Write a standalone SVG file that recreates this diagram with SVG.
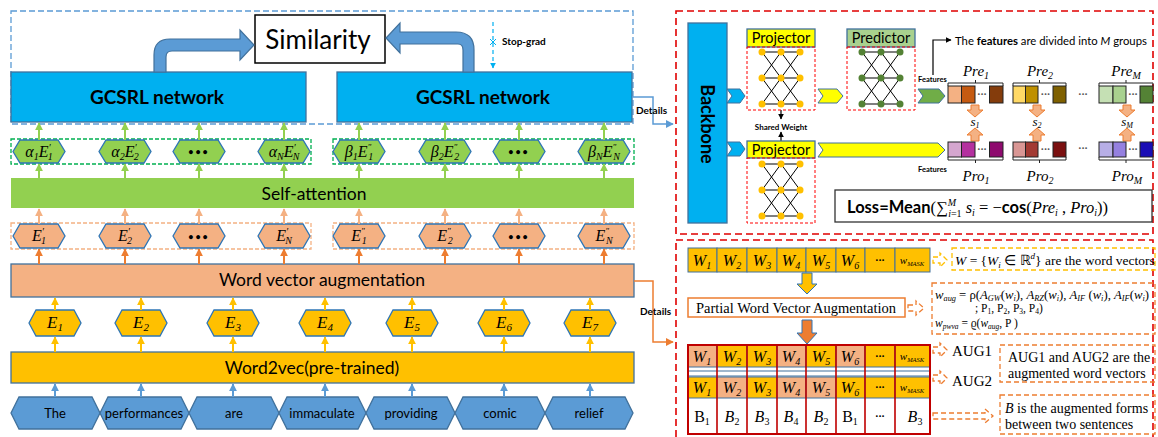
<svg xmlns="http://www.w3.org/2000/svg" width="1158" height="437" viewBox="0 0 1158 437">
<style>
text{font-family:Lato,"Liberation Sans",sans-serif;fill:#000}
.m{font-family:"Liberation Serif",serif;font-style:italic}
.r{font-family:"Liberation Serif",serif;font-style:normal}
.b{font-weight:bold}
.bar{stroke:#41719C;stroke-width:1.3}
.hG{fill:#92D050;stroke:#2E75B6;stroke-width:1.3}
.hO{fill:#F4B183;stroke:#2E75B6;stroke-width:1.3}
.hY{fill:#FFC000;stroke:#2E75B6;stroke-width:1.3}
.hB{fill:#5B9BD5;stroke:#41719C;stroke-width:1.3}
.dG{fill:none;stroke:#00B050;stroke-width:1.3;stroke-dasharray:4 2}
.dO{fill:none;stroke:#F4B183;stroke-width:1.3;stroke-dasharray:4 2}
.dR{fill:none;stroke:#E00000;stroke-width:1.6;stroke-dasharray:7 4}
.dr{fill:none;stroke:#FF0000;stroke-width:1;stroke-dasharray:3 2}
.dB{fill:none;stroke:#5B9BD5;stroke-width:1.3;stroke-dasharray:6 3}
.dYb{fill:none;stroke:#FFC000;stroke-width:1.3;stroke-dasharray:5 3}
.dOb{fill:none;stroke:#ED7D31;stroke-width:1.3;stroke-dasharray:5 3}
.aG{stroke:#92D050;stroke-width:2;marker-end:url(#mG)}
.aL{stroke:#F4B183;stroke-width:2;marker-end:url(#mL)}
.aO{stroke:#ED7D31;stroke-width:2;marker-end:url(#mO)}
.aY{stroke:#FFC000;stroke-width:2;marker-end:url(#mY)}
.aB{stroke:#5B9BD5;stroke-width:2;marker-end:url(#mB)}
.cell{stroke:#41719C;stroke-width:1}
.pc{stroke:#222;stroke-width:1}
.fat{fill:#5B9BD5;stroke:#41719C;stroke-width:1.2}
.sa{fill:#F4B183;stroke:#ED7D31;stroke-width:1}
.dots{fill:#555;font-size:12px}
.lab{font-size:13px}
</style>
<defs>
<marker id="mG" viewBox="0 0 10 10" refX="9" refY="5" markerWidth="8" markerHeight="8" markerUnits="userSpaceOnUse" orient="auto"><path d="M0,0L10,5L0,10z" fill="#92D050"/></marker>
<marker id="mL" viewBox="0 0 10 10" refX="9" refY="5" markerWidth="8" markerHeight="8" markerUnits="userSpaceOnUse" orient="auto"><path d="M0,0L10,5L0,10z" fill="#F4B183"/></marker>
<marker id="mO" viewBox="0 0 10 10" refX="9" refY="5" markerWidth="8" markerHeight="8" markerUnits="userSpaceOnUse" orient="auto"><path d="M0,0L10,5L0,10z" fill="#ED7D31"/></marker>
<marker id="mY" viewBox="0 0 10 10" refX="9" refY="5" markerWidth="8" markerHeight="8" markerUnits="userSpaceOnUse" orient="auto"><path d="M0,0L10,5L0,10z" fill="#FFC000"/></marker>
<marker id="mB" viewBox="0 0 10 10" refX="9" refY="5" markerWidth="8" markerHeight="8" markerUnits="userSpaceOnUse" orient="auto"><path d="M0,0L10,5L0,10z" fill="#5B9BD5"/></marker>
<marker id="mK" viewBox="0 0 10 10" refX="9" refY="5" markerWidth="6" markerHeight="6" markerUnits="userSpaceOnUse" orient="auto"><path d="M0,0L10,5L0,10z" fill="#000"/></marker>
<marker id="mC" viewBox="0 0 10 10" refX="9" refY="5" markerWidth="6" markerHeight="6" markerUnits="userSpaceOnUse" orient="auto"><path d="M0,0L10,5L0,10z" fill="#00B0F0"/></marker>
<g id="net">
<path d="M0,0H38M0,26H38M0,52H38M0,0L19,26M19,0L0,26M19,0L38,26M38,0L19,26M0,26L19,52M19,26L0,52M19,26L38,52M38,26L19,52" stroke="#000" stroke-width="1" fill="none"/>
<circle cx="0" cy="0" r="3.5"/><circle cx="19" cy="0" r="3.5"/><circle cx="38" cy="0" r="3.5"/>
<circle cx="0" cy="26" r="3.5"/><circle cx="19" cy="26" r="3.5"/><circle cx="38" cy="26" r="3.5"/>
<circle cx="0" cy="52" r="3.5"/><circle cx="19" cy="52" r="3.5"/><circle cx="38" cy="52" r="3.5"/>
</g>
</defs>
<rect width="1158" height="437" fill="#fff"/>

<!-- ===== LEFT PANEL ===== -->
<rect class="dB" x="11" y="11" width="622" height="113"/>

<g id="similarity">
<rect x="255" y="15" width="130" height="48" fill="#fff" stroke="#000" stroke-width="1.5"/>
<text x="318" y="49" font-size="26" text-anchor="middle">Similarity</text>
</g>

<g id="gcsrl1">
<rect class="bar" x="11" y="72" width="295" height="50" fill="#00B0F0"/>
<text x="157" y="104" font-size="19" class="b" text-anchor="middle">GCSRL network</text>
</g>
<g id="gcsrl2">
<rect class="bar" x="337" y="72" width="295" height="50" fill="#00B0F0"/>
<text x="483" y="104" font-size="19" class="b" text-anchor="middle">GCSRL network</text>
</g>

<g id="stopgrad">
<line x1="493" y1="22" x2="493" y2="68" stroke="#00B0F0" stroke-width="1.2" stroke-dasharray="4 3" marker-end="url(#mC)"/>
<path d="M490,39L496,45M496,39L490,45" stroke="#00B0F0" stroke-width="1"/>
<text x="502" y="45" font-size="10" class="b">Stop-grad</text>
</g>

<g id="alpha-row">
<rect class="dG" x="11" y="139" width="300" height="25"/>
<polygon class="hG" points="13,151.5 20,140 58,140 65,151.5 58,163 20,163"/>
<polygon class="hG" points="99,151.5 106,140 144,140 151,151.5 144,163 106,163"/>
<polygon class="hG" points="173,151.5 180,140 218,140 225,151.5 218,163 180,163"/>
<polygon class="hG" points="258,151.5 265,140 303,140 310,151.5 303,163 265,163"/>
<text class="m" x="39" y="157" font-size="16" text-anchor="middle">α<tspan font-size="10" dy="3">1</tspan><tspan dy="-3">E</tspan><tspan font-size="10" dy="-6">′</tspan><tspan font-size="10" dx="-3" dy="9">1</tspan></text>
<text class="m" x="125" y="157" font-size="16" text-anchor="middle">α<tspan font-size="10" dy="3">2</tspan><tspan dy="-3">E</tspan><tspan font-size="10" dy="-6">′</tspan><tspan font-size="10" dx="-3" dy="9">2</tspan></text>
<text x="199" y="155" font-size="9" text-anchor="middle" class="b" letter-spacing="2">•••</text>
<text class="m" x="284" y="157" font-size="16" text-anchor="middle">α<tspan font-size="10" dy="3">N</tspan><tspan dy="-3">E</tspan><tspan font-size="10" dy="-6">′</tspan><tspan font-size="10" dx="-3" dy="9">N</tspan></text>
</g>
<g id="beta-row">
<rect class="dG" x="333" y="139" width="301" height="25"/>
<polygon class="hG" points="333,151.5 340,140 378,140 385,151.5 378,163 340,163"/>
<polygon class="hG" points="419,151.5 426,140 464,140 471,151.5 464,163 426,163"/>
<polygon class="hG" points="493,151.5 500,140 538,140 545,151.5 538,163 500,163"/>
<polygon class="hG" points="578,151.5 585,140 623,140 630,151.5 623,163 585,163"/>
<text class="m" x="359" y="157" font-size="16" text-anchor="middle">β<tspan font-size="10" dy="3">1</tspan><tspan dy="-3">E</tspan><tspan font-size="9" dy="-7">"</tspan><tspan font-size="10" dx="-3" dy="10">1</tspan></text>
<text class="m" x="445" y="157" font-size="16" text-anchor="middle">β<tspan font-size="10" dy="3">2</tspan><tspan dy="-3">E</tspan><tspan font-size="9" dy="-7">"</tspan><tspan font-size="10" dx="-3" dy="10">2</tspan></text>
<text x="519" y="155" font-size="9" text-anchor="middle" class="b" letter-spacing="2">•••</text>
<text class="m" x="604" y="157" font-size="16" text-anchor="middle">β<tspan font-size="10" dy="3">N</tspan><tspan dy="-3">E</tspan><tspan font-size="9" dy="-7">"</tspan><tspan font-size="10" dx="-3" dy="10">N</tspan></text>
</g>

<g id="self-attention">
<rect x="11" y="178" width="623" height="30" fill="#92D050"/>
<text x="314" y="200" font-size="17.5" text-anchor="middle">Self-attention</text>
</g>

<g id="eprime-row">
<rect class="dO" x="11" y="223" width="300" height="26"/>
<polygon class="hO" points="13,236 20,224 58,224 65,236 58,248 20,248"/>
<polygon class="hO" points="99,236 106,224 144,224 151,236 144,248 106,248"/>
<polygon class="hO" points="173,236 180,224 218,224 225,236 218,248 180,248"/>
<polygon class="hO" points="258,236 265,224 303,224 310,236 303,248 265,248"/>
<text class="m" x="39" y="241" font-size="16" text-anchor="middle">E<tspan font-size="10" dy="-6">′</tspan><tspan font-size="10" dx="-3" dy="9">1</tspan></text>
<text class="m" x="125" y="241" font-size="16" text-anchor="middle">E<tspan font-size="10" dy="-6">′</tspan><tspan font-size="10" dx="-3" dy="9">2</tspan></text>
<text x="199" y="240" font-size="9" text-anchor="middle" class="b" letter-spacing="2">•••</text>
<text class="m" x="284" y="241" font-size="16" text-anchor="middle">E<tspan font-size="10" dy="-6">′</tspan><tspan font-size="10" dx="-3" dy="9">N</tspan></text>
</g>
<g id="edprime-row">
<rect class="dO" x="333" y="223" width="301" height="26"/>
<polygon class="hO" points="333,236 340,224 378,224 385,236 378,248 340,248"/>
<polygon class="hO" points="419,236 426,224 464,224 471,236 464,248 426,248"/>
<polygon class="hO" points="493,236 500,224 538,224 545,236 538,248 500,248"/>
<polygon class="hO" points="578,236 585,224 623,224 630,236 623,248 585,248"/>
<text class="m" x="359" y="241" font-size="16" text-anchor="middle">E<tspan font-size="9" dy="-7">"</tspan><tspan font-size="10" dx="-3" dy="10">1</tspan></text>
<text class="m" x="445" y="241" font-size="16" text-anchor="middle">E<tspan font-size="9" dy="-7">"</tspan><tspan font-size="10" dx="-3" dy="10">2</tspan></text>
<text x="519" y="240" font-size="9" text-anchor="middle" class="b" letter-spacing="2">•••</text>
<text class="m" x="604" y="241" font-size="16" text-anchor="middle">E<tspan font-size="9" dy="-7">"</tspan><tspan font-size="10" dx="-3" dy="10">N</tspan></text>
</g>

<g id="word-vector-augmentation">
<rect class="bar" x="11" y="264" width="623" height="33" fill="#F4B183"/>
<text x="322" y="286" font-size="17.5" text-anchor="middle">Word vector augmentation</text>
</g>

<g id="e-row">
<polygon class="hY" points="29,323 36,310 74,310 81,323 74,336 36,336"/>
<polygon class="hY" points="115,323 122,310 160,310 167,323 160,336 122,336"/>
<polygon class="hY" points="207,323 214,310 252,310 259,323 252,336 214,336"/>
<polygon class="hY" points="299,323 306,310 344,310 351,323 344,336 306,336"/>
<polygon class="hY" points="386,323 393,310 431,310 438,323 431,336 393,336"/>
<polygon class="hY" points="478,323 485,310 523,310 530,323 523,336 485,336"/>
<polygon class="hY" points="564,323 571,310 609,310 616,323 609,336 571,336"/>
<text class="m" x="55" y="328" font-size="17" text-anchor="middle">E<tspan font-size="11" dy="3">1</tspan></text>
<text class="m" x="141" y="328" font-size="17" text-anchor="middle">E<tspan font-size="11" dy="3">2</tspan></text>
<text class="m" x="233" y="328" font-size="17" text-anchor="middle">E<tspan font-size="11" dy="3">3</tspan></text>
<text class="m" x="325" y="328" font-size="17" text-anchor="middle">E<tspan font-size="11" dy="3">4</tspan></text>
<text class="m" x="412" y="328" font-size="17" text-anchor="middle">E<tspan font-size="11" dy="3">5</tspan></text>
<text class="m" x="504" y="328" font-size="17" text-anchor="middle">E<tspan font-size="11" dy="3">6</tspan></text>
<text class="m" x="590" y="328" font-size="17" text-anchor="middle">E<tspan font-size="11" dy="3">7</tspan></text>
</g>

<g id="word2vec">
<rect class="bar" x="11" y="352" width="623" height="31" fill="#FFC000"/>
<text x="312" y="374" font-size="17.5" text-anchor="middle">Word2vec(pre-trained)</text>
</g>

<g id="words">
<polygon class="hB" points="11,413 19,397 92,397 100,413 92,429 19,429"/>
<polygon class="hB" points="100,413 108,397 181,397 189,413 181,429 108,429"/>
<polygon class="hB" points="189,413 197,397 271,397 279,413 271,429 197,429"/>
<polygon class="hB" points="279,413 287,397 358,397 366,413 358,429 287,429"/>
<polygon class="hB" points="366,413 374,397 447,397 455,413 447,429 374,429"/>
<polygon class="hB" points="455,413 463,397 537,397 545,413 537,429 463,429"/>
<polygon class="hB" points="545,413 553,397 625,397 633,413 625,429 553,429"/>
<text class="lab" x="55" y="418" text-anchor="middle">The</text>
<text class="lab" x="144" y="418" text-anchor="middle">performances</text>
<text class="lab" x="234" y="418" text-anchor="middle">are</text>
<text class="lab" x="322" y="418" text-anchor="middle">immaculate</text>
<text class="lab" x="411" y="418" text-anchor="middle">providing</text>
<text class="lab" x="500" y="418" text-anchor="middle">comic</text>
<text class="lab" x="589" y="418" text-anchor="middle">relief</text>
</g>

<g id="connectors">
<path class="fat" d="M154,72L154,55Q154,39 170,39L240,39L240,30L254,45L240,60L240,51L172,51Q166,51 166,57L166,72Z"/>
<path class="fat" d="M474,72L474,50Q474,32 456,32L400,32L400,23L386,38L400,53L400,44L458,44Q463,44 463,50L463,72Z"/>
<line class="aG" x1="39" y1="140" x2="39" y2="123"/>
<line class="aG" x1="125" y1="140" x2="125" y2="123"/>
<line class="aG" x1="199" y1="140" x2="199" y2="123"/>
<line class="aG" x1="284" y1="140" x2="284" y2="123"/>
<line class="aG" x1="359" y1="140" x2="359" y2="123"/>
<line class="aG" x1="445" y1="140" x2="445" y2="123"/>
<line class="aG" x1="519" y1="140" x2="519" y2="123"/>
<line class="aG" x1="604" y1="140" x2="604" y2="123"/>
<line class="aG" x1="39" y1="178" x2="39" y2="164"/>
<line class="aG" x1="125" y1="178" x2="125" y2="164"/>
<line class="aG" x1="199" y1="178" x2="199" y2="164"/>
<line class="aG" x1="284" y1="178" x2="284" y2="164"/>
<line class="aG" x1="359" y1="178" x2="359" y2="164"/>
<line class="aG" x1="445" y1="178" x2="445" y2="164"/>
<line class="aG" x1="519" y1="178" x2="519" y2="164"/>
<line class="aG" x1="604" y1="178" x2="604" y2="164"/>
<line class="aL" x1="39" y1="224" x2="39" y2="209"/>
<line class="aL" x1="125" y1="224" x2="125" y2="209"/>
<line class="aL" x1="199" y1="224" x2="199" y2="209"/>
<line class="aL" x1="284" y1="224" x2="284" y2="209"/>
<line class="aL" x1="359" y1="224" x2="359" y2="209"/>
<line class="aL" x1="445" y1="224" x2="445" y2="209"/>
<line class="aL" x1="519" y1="224" x2="519" y2="209"/>
<line class="aL" x1="604" y1="224" x2="604" y2="209"/>
<line class="aO" x1="39" y1="264" x2="39" y2="249"/>
<line class="aO" x1="125" y1="264" x2="125" y2="249"/>
<line class="aO" x1="199" y1="264" x2="199" y2="249"/>
<line class="aO" x1="284" y1="264" x2="284" y2="249"/>
<line class="aO" x1="359" y1="264" x2="359" y2="249"/>
<line class="aO" x1="445" y1="264" x2="445" y2="249"/>
<line class="aO" x1="519" y1="264" x2="519" y2="249"/>
<line class="aO" x1="604" y1="264" x2="604" y2="249"/>
<line class="aY" x1="55" y1="310" x2="55" y2="298"/>
<line class="aY" x1="141" y1="310" x2="141" y2="298"/>
<line class="aY" x1="233" y1="310" x2="233" y2="298"/>
<line class="aY" x1="325" y1="310" x2="325" y2="298"/>
<line class="aY" x1="412" y1="310" x2="412" y2="298"/>
<line class="aY" x1="504" y1="310" x2="504" y2="298"/>
<line class="aY" x1="590" y1="310" x2="590" y2="298"/>
<line class="aY" x1="55" y1="352" x2="55" y2="337"/>
<line class="aY" x1="141" y1="352" x2="141" y2="337"/>
<line class="aY" x1="233" y1="352" x2="233" y2="337"/>
<line class="aY" x1="325" y1="352" x2="325" y2="337"/>
<line class="aY" x1="412" y1="352" x2="412" y2="337"/>
<line class="aY" x1="504" y1="352" x2="504" y2="337"/>
<line class="aY" x1="590" y1="352" x2="590" y2="337"/>
<line class="aB" x1="55" y1="397" x2="55" y2="384"/>
<line class="aB" x1="141" y1="397" x2="141" y2="384"/>
<line class="aB" x1="233" y1="397" x2="233" y2="384"/>
<line class="aB" x1="325" y1="397" x2="325" y2="384"/>
<line class="aB" x1="412" y1="397" x2="412" y2="384"/>
<line class="aB" x1="504" y1="397" x2="504" y2="384"/>
<line class="aB" x1="590" y1="397" x2="590" y2="384"/>
<path d="M632,97H653V124H673" fill="none" stroke="#5B9BD5" stroke-width="1.5" marker-end="url(#mB)"/>
<path d="M634,281H653V342H673" fill="none" stroke="#ED7D31" stroke-width="1.5" marker-end="url(#mO)"/>
<line x1="781" y1="110" x2="781" y2="119" stroke="#000" stroke-width="1.2" marker-end="url(#mK)"/>
<line x1="781" y1="141" x2="781" y2="132" stroke="#000" stroke-width="1.2" marker-end="url(#mK)"/>
<path d="M933,75V40H951" fill="none" stroke="#000" stroke-width="1.2" marker-end="url(#mK)"/>
</g>
<text x="636" y="114" font-size="10" class="b">Details</text>
<text x="640" y="315" font-size="10" class="b">Details</text>

<!-- ===== RIGHT TOP PANEL ===== -->
<rect class="dR" x="676" y="11" width="477" height="223"/>

<g id="backbone">
<rect class="bar" x="688" y="23" width="39" height="200" fill="#00B0F0"/>
<text transform="translate(707,124) rotate(90)" y="6" font-size="18" class="b" text-anchor="middle">Backbone</text>
</g>

<g id="projector1">
<rect x="747" y="29" width="68" height="18" fill="#FFFF00" stroke="#41719C" stroke-width="1.3"/>
<text x="781" y="43" font-size="14.5" text-anchor="middle">Projector</text>
<rect class="dr" x="747" y="47" width="68" height="63"/>
<use href="#net" x="762" y="52" fill="#FFC000"/>
</g>
<text x="781" y="130" font-size="8" class="b" text-anchor="middle">Shared Weight</text>
<g id="projector2">
<rect x="747" y="141" width="68" height="17" fill="#FFFF00" stroke="#41719C" stroke-width="1.3"/>
<text x="781" y="155" font-size="14.5" text-anchor="middle">Projector</text>
<rect class="dr" x="747" y="158" width="68" height="65"/>
<use href="#net" x="762" y="164" fill="#FFC000"/>
</g>
<g id="predictor">
<rect x="847" y="29" width="68" height="18" fill="#A9D18E" stroke="#41719C" stroke-width="1.3"/>
<text x="881" y="43" font-size="14.5" text-anchor="middle">Predictor</text>
<rect class="dr" x="847" y="47" width="68" height="63"/>
<use href="#net" x="862" y="52" fill="#548235"/>
</g>

<g id="chevrons">
<polygon points="727,89 740,89 745,96 740,103 727,103 732,96" fill="#00B0F0" stroke="#41719C" stroke-width="1"/>
<polygon points="727,142 740,142 745,149 740,156 727,156 732,149" fill="#00B0F0" stroke="#41719C" stroke-width="1"/>
<polygon points="818,89 837,89 843,96 837,103 818,103 823,96" fill="#FFFF00" stroke="#41719C" stroke-width="1"/>
<polygon points="818,143 938,143 945,150 938,157 818,157 823,150" fill="#FFFF00" stroke="#41719C" stroke-width="1"/>
<polygon points="918,89 939,89 945,96 939,103 918,103 923,96" fill="#70AD47" stroke="#41719C" stroke-width="1"/>
</g>
<text x="918" y="82" font-size="7.5" class="b">Features</text>
<text x="918" y="172" font-size="7.5" class="b">Features</text>
<text x="955" y="45" font-size="11.3">The <tspan class="b">features</tspan> are divided into <tspan font-style="italic">M</tspan> groups</text>

<g id="pre-groups">
<rect class="pc" x="948" y="86" width="13.5" height="17" fill="#F4B183"/>
<rect class="pc" x="961.5" y="86" width="13.5" height="17" fill="#C55A11"/>
<rect class="pc" x="989.5" y="86" width="13.5" height="17" fill="#843C0C"/>
<text class="dots" x="982" y="98" text-anchor="middle">···</text>
<rect class="pc" x="1013" y="86" width="12.5" height="17" fill="#FFD966"/>
<rect class="pc" x="1025.5" y="86" width="12.5" height="17" fill="#BF9000"/>
<rect class="pc" x="1053" y="86" width="13" height="17" fill="#7F6000"/>
<text class="dots" x="1045.5" y="98" text-anchor="middle">···</text>
<rect class="pc" x="1099" y="86" width="14" height="17" fill="#C5E0B4"/>
<rect class="pc" x="1113" y="86" width="13" height="17" fill="#A9D18E"/>
<rect class="pc" x="1140" y="86" width="13" height="17" fill="#548235"/>
<text class="dots" x="1133" y="98" text-anchor="middle">···</text>
<text class="dots" x="1083" y="98" text-anchor="middle">···</text>
<path d="M948,86V83H1003V86M975.5,83V80M1013,86V83H1066V86M1039.5,83V80M1099,86V83H1153V86M1126,83V80" fill="none" stroke="#222" stroke-width="1"/>
<text class="m" x="976" y="76" font-size="15" text-anchor="middle">Pre<tspan font-size="10" dy="3">1</tspan></text>
<text class="m" x="1040" y="76" font-size="15" text-anchor="middle">Pre<tspan font-size="10" dy="3">2</tspan></text>
<text class="m" x="1126" y="76" font-size="15" text-anchor="middle">Pre<tspan font-size="10" dy="3">M</tspan></text>
</g>
<g id="similarity-s">
<polygon class="sa" points="971,105 979,105 979,110 983,110 975,117 967,110 971,110"/>
<polygon class="sa" points="1033,105 1041,105 1041,110 1045,110 1037,117 1029,110 1033,110"/>
<polygon class="sa" points="1123,105 1131,105 1131,110 1135,110 1127,117 1119,110 1123,110"/>
<polygon class="sa" points="971,141 979,141 979,135 983,135 975,128 967,135 971,135"/>
<polygon class="sa" points="1033,141 1041,141 1041,135 1045,135 1037,128 1029,135 1033,135"/>
<polygon class="sa" points="1123,141 1131,141 1131,135 1135,135 1127,128 1119,135 1123,135"/>
<text class="m" x="975" y="126" font-size="13" text-anchor="middle">s<tspan font-size="8" dy="2">1</tspan></text>
<text class="m" x="1037" y="126" font-size="13" text-anchor="middle">s<tspan font-size="8" dy="2">2</tspan></text>
<text class="m" x="1127" y="126" font-size="13" text-anchor="middle">s<tspan font-size="8" dy="2">M</tspan></text>
</g>
<g id="pro-groups">
<rect class="pc" x="948" y="142" width="13.5" height="15" fill="#D5A6CF"/>
<rect class="pc" x="961.5" y="142" width="13.5" height="15" fill="#B4309F"/>
<rect class="pc" x="989.5" y="142" width="13.5" height="15" fill="#8E0A6E"/>
<text class="dots" x="982" y="153" text-anchor="middle">···</text>
<rect class="pc" x="1013" y="142" width="12.5" height="15" fill="#D99694"/>
<rect class="pc" x="1025.5" y="142" width="12.5" height="15" fill="#A33A33"/>
<rect class="pc" x="1053" y="142" width="13" height="15" fill="#7B1010"/>
<text class="dots" x="1045.5" y="153" text-anchor="middle">···</text>
<rect class="pc" x="1099" y="142" width="14" height="15" fill="#B7AEE6"/>
<rect class="pc" x="1113" y="142" width="13" height="15" fill="#9580E0"/>
<rect class="pc" x="1140" y="142" width="13" height="15" fill="#1A0DB5"/>
<text class="dots" x="1133" y="153" text-anchor="middle">···</text>
<text class="dots" x="1083" y="152" text-anchor="middle">···</text>
<path d="M948,157V160H1003V157M975.5,160V163M1013,157V160H1066V157M1039.5,160V163M1099,157V160H1153V157M1126,160V163" fill="none" stroke="#222" stroke-width="1"/>
<text class="m" x="976" y="181" font-size="15" text-anchor="middle">Pro<tspan font-size="10" dy="3">1</tspan></text>
<text class="m" x="1040" y="181" font-size="15" text-anchor="middle">Pro<tspan font-size="10" dy="3">2</tspan></text>
<text class="m" x="1127" y="181" font-size="15" text-anchor="middle">Pro<tspan font-size="10" dy="3">M</tspan></text>
</g>

<g id="loss">
<rect x="835" y="190" width="317" height="32" fill="#fff" stroke="#333" stroke-width="1.3"/>
<text x="847" y="213" font-size="16.5" class="r"><tspan style="font-family:Lato,sans-serif;font-weight:bold">Loss=Mean</tspan>(∑<tspan font-size="10" font-style="italic" dy="-7">M</tspan><tspan font-size="10" font-style="italic" dx="-8" dy="11">i</tspan><tspan font-size="10">=1</tspan><tspan font-style="italic" dy="-4"> s</tspan><tspan font-size="10" font-style="italic" dy="3">i</tspan><tspan dy="-3"> = −</tspan><tspan style="font-family:Lato,sans-serif;font-weight:bold">cos</tspan>(<tspan font-style="italic">Pre</tspan><tspan font-size="10" font-style="italic" dy="3">i</tspan><tspan dy="-3"> , </tspan><tspan font-style="italic">Pro</tspan><tspan font-size="10" font-style="italic" dy="3">i</tspan><tspan dy="-3">))</tspan></text>
</g>

<!-- ===== RIGHT BOTTOM PANEL ===== -->
<rect class="dR" x="676" y="240" width="477" height="210"/>

<g id="w-row">
<rect class="cell" x="688" y="248" width="29" height="24" fill="#FFC000"/>
<rect class="cell" x="717" y="248" width="30" height="24" fill="#FFC000"/>
<rect class="cell" x="747" y="248" width="30" height="24" fill="#FFC000"/>
<rect class="cell" x="777" y="248" width="29" height="24" fill="#FFC000"/>
<rect class="cell" x="806" y="248" width="30" height="24" fill="#FFC000"/>
<rect class="cell" x="836" y="248" width="29" height="24" fill="#FFC000"/>
<rect class="cell" x="865" y="248" width="30" height="24" fill="#FFC000"/>
<rect class="cell" x="895" y="248" width="35" height="24" fill="#FFC000"/>
<text class="m" x="702" y="266" font-size="16" text-anchor="middle">W<tspan font-size="10" dy="3">1</tspan></text>
<text class="m" x="732" y="266" font-size="16" text-anchor="middle">W<tspan font-size="10" dy="3">2</tspan></text>
<text class="m" x="762" y="266" font-size="16" text-anchor="middle">W<tspan font-size="10" dy="3">3</tspan></text>
<text class="m" x="791" y="266" font-size="16" text-anchor="middle">W<tspan font-size="10" dy="3">4</tspan></text>
<text class="m" x="821" y="266" font-size="16" text-anchor="middle">W<tspan font-size="10" dy="3">5</tspan></text>
<text class="m" x="850" y="266" font-size="16" text-anchor="middle">W<tspan font-size="10" dy="3">6</tspan></text>
<text x="880" y="264" font-size="12" text-anchor="middle">···</text>
<text class="m" x="912" y="264" font-size="11" text-anchor="middle">w<tspan font-size="6.5" dy="2">MASK</tspan></text>
</g>
<polygon class="dYb" points="933,257 940,257 940,253 947,260 940,267 940,263 933,263"/>
<g id="w-note">
<rect class="dYb" x="952" y="248" width="203" height="22"/>
<text class="r" x="955" y="265" font-size="13.5"><tspan font-style="italic">W</tspan> = {<tspan font-style="italic">W</tspan><tspan font-size="9" font-style="italic" dy="3">i</tspan><tspan dy="-3"> ∈ ℝ</tspan><tspan font-size="9" font-style="italic" dy="-6">d</tspan><tspan dy="6">} are the word vectors</tspan></text>
</g>

<polygon points="802,273 812,273 812,284 817,284 807,294 797,284 802,284" fill="#FFC000" stroke="#2E75B6" stroke-width="1"/>

<g id="pwva">
<rect x="688" y="298" width="217" height="19" fill="#fff" stroke="#ED7D31" stroke-width="1.5"/>
<text class="r" x="796" y="313" font-size="14.5" text-anchor="middle">Partial Word Vector Augmentation</text>
</g>
<polygon class="dOb" points="908,305 916,305 916,301 924,308 916,315 916,311 908,311"/>
<g id="formula-note">
<rect class="dOb" x="932" y="283" width="223" height="51"/>
<text class="r" x="935" y="299" font-size="11.5" textLength="214" lengthAdjust="spacingAndGlyphs"><tspan font-style="italic">w</tspan><tspan font-size="7.5" font-style="italic" dy="2">aug</tspan><tspan dy="-2"> = ρ(</tspan><tspan font-style="italic">A</tspan><tspan font-size="7.5" font-style="italic" dy="2">GW</tspan><tspan dy="-2">(</tspan><tspan font-style="italic">w</tspan><tspan font-size="7.5" font-style="italic" dy="2">i</tspan><tspan dy="-2">), </tspan><tspan font-style="italic">A</tspan><tspan font-size="7.5" font-style="italic" dy="2">RZ</tspan><tspan dy="-2">(</tspan><tspan font-style="italic">w</tspan><tspan font-size="7.5" font-style="italic" dy="2">i</tspan><tspan dy="-2">), </tspan><tspan font-style="italic">A</tspan><tspan font-size="7.5" font-style="italic" dy="2">IF</tspan><tspan dy="-2"> (</tspan><tspan font-style="italic">w</tspan><tspan font-size="7.5" font-style="italic" dy="2">i</tspan><tspan dy="-2">),  </tspan><tspan font-style="italic">A</tspan><tspan font-size="7.5" font-style="italic" dy="2">IF</tspan><tspan dy="-2">(</tspan><tspan font-style="italic">w</tspan><tspan font-size="7.5" font-style="italic" dy="2">i</tspan><tspan dy="-2">)</tspan></text>
<text class="r" x="975" y="312" font-size="11.5">; P<tspan font-size="7.5" dy="2">1</tspan><tspan dy="-2">, P</tspan><tspan font-size="7.5" dy="2">2</tspan><tspan dy="-2">, P</tspan><tspan font-size="7.5" dy="2">3</tspan><tspan dy="-2">, P</tspan><tspan font-size="7.5" dy="2">4</tspan><tspan dy="-2">)</tspan></text>
<text class="r" x="935" y="327" font-size="11.5"><tspan font-style="italic">w</tspan><tspan font-size="7.5" font-style="italic" dy="2">pwva</tspan><tspan dy="-2"> = ϱ(</tspan><tspan font-style="italic">w</tspan><tspan font-size="7.5" font-style="italic" dy="2">aug</tspan><tspan dy="-2">, P )</tspan></text>
</g>

<polygon points="802,320 812,320 812,333 817,333 807,344 797,333 802,333" fill="#ED7D31" stroke="#2E75B6" stroke-width="1"/>

<g id="aug-grid">
<rect class="cell" x="688" y="345" width="29" height="22" fill="#F4B183"/>
<rect class="cell" x="717" y="345" width="30" height="22" fill="#FFC000"/>
<rect class="cell" x="747" y="345" width="30" height="22" fill="#FFC000"/>
<rect class="cell" x="777" y="345" width="29" height="22" fill="#F4B183"/>
<rect class="cell" x="806" y="345" width="30" height="22" fill="#FFC000"/>
<rect class="cell" x="836" y="345" width="29" height="22" fill="#F4B183"/>
<rect class="cell" x="865" y="345" width="30" height="22" fill="#FFC000"/>
<rect class="cell" x="895" y="345" width="35" height="22" fill="#FFC000"/>
<rect class="cell" x="688" y="371" width="242" height="5" fill="#fff"/>
<rect class="cell" x="688" y="377" width="29" height="21" fill="#FFC000"/>
<rect class="cell" x="717" y="377" width="30" height="21" fill="#F4B183"/>
<rect class="cell" x="747" y="377" width="30" height="21" fill="#FFC000"/>
<rect class="cell" x="777" y="377" width="29" height="21" fill="#F4B183"/>
<rect class="cell" x="806" y="377" width="30" height="21" fill="#F4B183"/>
<rect class="cell" x="836" y="377" width="29" height="21" fill="#FFC000"/>
<rect class="cell" x="865" y="377" width="30" height="21" fill="#FFC000"/>
<rect class="cell" x="895" y="377" width="35" height="21" fill="#FFC000"/>
<path d="M717,345V434M747,345V434M777,345V434M806,345V434M836,345V434M865,345V434M895,345V434" stroke="#C00000" stroke-width="1.6"/>
<rect x="688" y="345" width="242" height="89" fill="none" stroke="#C00000" stroke-width="2"/>
<text class="m" x="702" y="362" font-size="16" text-anchor="middle">W<tspan font-size="10" dy="3">1</tspan></text>
<text class="m" x="732" y="362" font-size="16" text-anchor="middle">W<tspan font-size="10" dy="3">2</tspan></text>
<text class="m" x="762" y="362" font-size="16" text-anchor="middle">W<tspan font-size="10" dy="3">3</tspan></text>
<text class="m" x="791" y="362" font-size="16" text-anchor="middle">W<tspan font-size="10" dy="3">4</tspan></text>
<text class="m" x="821" y="362" font-size="16" text-anchor="middle">W<tspan font-size="10" dy="3">5</tspan></text>
<text class="m" x="850" y="362" font-size="16" text-anchor="middle">W<tspan font-size="10" dy="3">6</tspan></text>
<text x="880" y="360" font-size="12" text-anchor="middle">···</text>
<text class="m" x="912" y="360" font-size="11" text-anchor="middle">w<tspan font-size="6.5" dy="2">MASK</tspan></text>
<text class="m" x="702" y="393" font-size="16" text-anchor="middle">W<tspan font-size="10" dy="3">1</tspan></text>
<text class="m" x="732" y="393" font-size="16" text-anchor="middle">W<tspan font-size="10" dy="3">2</tspan></text>
<text class="m" x="762" y="393" font-size="16" text-anchor="middle">W<tspan font-size="10" dy="3">3</tspan></text>
<text class="m" x="791" y="393" font-size="16" text-anchor="middle">W<tspan font-size="10" dy="3">4</tspan></text>
<text class="m" x="821" y="393" font-size="16" text-anchor="middle">W<tspan font-size="10" dy="3">5</tspan></text>
<text class="m" x="850" y="393" font-size="16" text-anchor="middle">W<tspan font-size="10" dy="3">6</tspan></text>
<text x="880" y="391" font-size="12" text-anchor="middle">···</text>
<text class="m" x="912" y="391" font-size="11" text-anchor="middle">w<tspan font-size="6.5" dy="2">MASK</tspan></text>
<text class="r" x="702" y="422" font-size="16" text-anchor="middle">B<tspan font-size="10" dy="3">1</tspan></text>
<text class="m" x="732" y="422" font-size="16" text-anchor="middle">B<tspan font-size="10" dy="3" font-style="normal">2</tspan></text>
<text class="m" x="762" y="422" font-size="16" text-anchor="middle">B<tspan font-size="10" dy="3" font-style="normal">3</tspan></text>
<text class="m" x="791" y="422" font-size="16" text-anchor="middle">B<tspan font-size="10" dy="3" font-style="normal">4</tspan></text>
<text class="m" x="821" y="422" font-size="16" text-anchor="middle">B<tspan font-size="10" dy="3" font-style="normal">2</tspan></text>
<text class="r" x="850" y="422" font-size="16" text-anchor="middle">B<tspan font-size="10" dy="3">1</tspan></text>
<text x="880" y="420" font-size="12" text-anchor="middle">···</text>
<text class="m" x="915" y="422" font-size="16" text-anchor="middle">B<tspan font-size="10" dy="3" font-style="normal">3</tspan></text>
</g>

<polygon class="dOb" points="933,347 940,347 940,343 947,350 940,357 940,353 933,353"/>
<text class="r" x="952" y="356" font-size="15">AUG1</text>
<polygon class="dOb" points="933,375 940,375 940,371 947,378 940,385 940,381 933,381"/>
<text class="r" x="952" y="386" font-size="15">AUG2</text>
<g id="aug-note">
<rect class="dOb" x="1000" y="345" width="155" height="37"/>
<text class="r" x="1008" y="362" font-size="14">AUG1 and AUG2 are the</text>
<text class="r" x="1008" y="378" font-size="14">augmented word vectors</text>
</g>
<polygon class="dOb" points="933,413 985,413 985,409 993,416 985,423 985,419 933,419"/>
<g id="b-note">
<rect class="dOb" x="1000" y="395" width="155" height="39"/>
<text class="r" x="1005" y="413" font-size="14"><tspan font-style="italic">B</tspan> is the augmented forms</text>
<text class="r" x="1005" y="429" font-size="14">between two sentences</text>
</g>
</svg>
